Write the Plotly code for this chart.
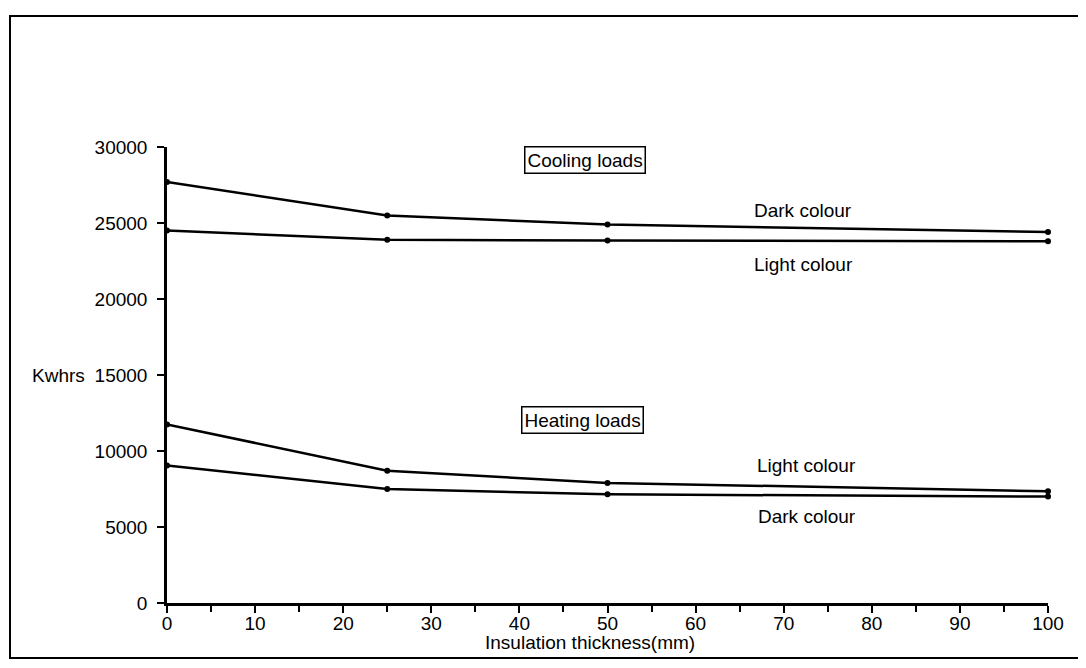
import plotly.graph_objects as go

thickness = [0, 25, 50, 100]
cooling_dark = [27700, 25500, 24900, 24400]
cooling_light = [24500, 23900, 23850, 23800]
heating_light = [11750, 8700, 7900, 7350]
heating_dark = [9050, 7500, 7150, 7000]

y_ticks = [0, 5000, 10000, 15000, 20000, 25000, 30000]
x_ticks = [0, 10, 20, 30, 40, 50, 60, 70, 80, 90, 100]

FONT = "Liberation Sans, Arial, sans-serif"
FS = 19

# page offset (8px body margin) compensation: plot area at screen x 167..1048, y 147..603
L, T = 159, 139
PW, PH = 881, 456
W, H = 1070, 652

fig = go.Figure()
for ys in [cooling_dark, cooling_light, heating_light, heating_dark]:
    fig.add_trace(go.Scatter(
        x=thickness, y=ys, mode="lines+markers",
        line=dict(color="black", width=2.5),
        marker=dict(color="black", size=6),
        showlegend=False, hoverinfo="x+y", cliponaxis=False,
    ))

fig.update_layout(
    width=W, height=H,
    margin=dict(l=L, r=W - L - PW, t=T, b=H - T - PH),
    paper_bgcolor="white", plot_bgcolor="white",
    font=dict(family=FONT, size=FS, color="black"),
    xaxis=dict(
        range=[0, 100], tickvals=x_ticks, ticks="outside", ticklen=7,
        tickwidth=2, tickcolor="black", showline=True, linecolor="black",
        linewidth=2.5, showgrid=False, zeroline=False,
        minor=dict(dtick=5, ticks="outside", ticklen=6, tickcolor="black", tickwidth=2),
        tickfont=dict(size=FS), ticklabelstandoff=-6,
    ),
    yaxis=dict(
        range=[0, 30000], tickvals=y_ticks, ticks="outside", ticklen=7,
        tickwidth=2, tickcolor="black", showline=True, linecolor="black",
        linewidth=2.5, showgrid=False, zeroline=False, tickformat="d",
        tickfont=dict(size=FS), ticklabelstandoff=6,
    ),
)

def px_x(sx):
    return (sx - 167) / PW

def px_y(sy):
    return (603 - sy) / PH

# frame around figure
fig.add_shape(type="rect", xref="paper", yref="paper",
              x0=px_x(10), x1=px_x(1082), y0=px_y(658), y1=px_y(16),
              line=dict(color="black", width=2), layer="below")

annos = [
    dict(x=47.4, y=29150, text="Cooling loads", box=True),
    dict(x=72.2, y=25850, text="Dark colour", box=False),
    dict(x=72.2, y=22250, text="Light colour", box=False),
    dict(x=47.2, y=12050, text="Heating loads", box=True),
    dict(x=72.6, y=9050, text="Light colour", box=False),
    dict(x=72.6, y=5700, text="Dark colour", box=False),
]
for a in annos:
    fig.add_annotation(
        x=a["x"], y=a["y"], text=a["text"], showarrow=False,
        font=dict(size=FS, family=FONT),
        bordercolor="black" if a["box"] else "rgba(0,0,0,0)",
        borderwidth=1.5 if a["box"] else 0, borderpad=2,
        bgcolor="white" if a["box"] else "rgba(0,0,0,0)",
    )

fig.add_annotation(x=px_x(30), xref="paper", y=15000, text="Kwhrs",
                   showarrow=False, xanchor="left", font=dict(size=FS))
fig.add_annotation(x=px_x(590), xref="paper", y=px_y(642), yref="paper",
                   text="Insulation thickness(mm)", showarrow=False,
                   yanchor="middle", font=dict(size=FS))

fig.write_html("out.html")
